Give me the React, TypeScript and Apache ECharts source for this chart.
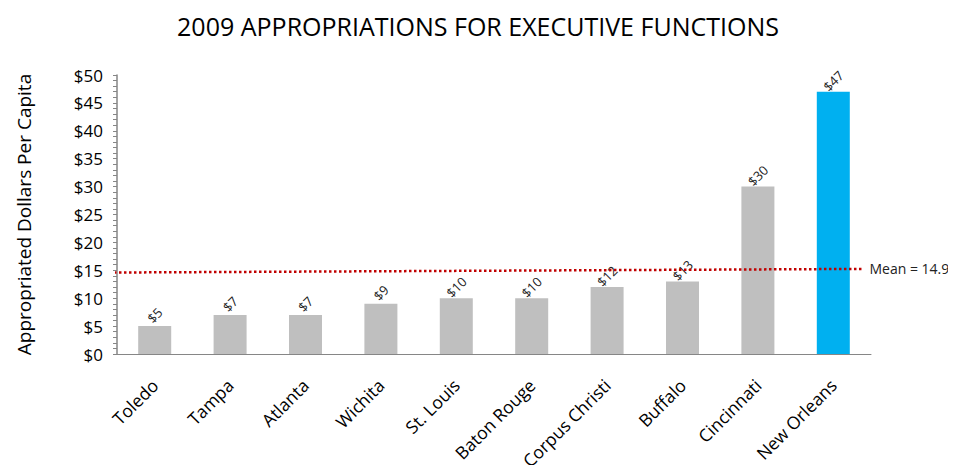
import React, { useEffect, useRef } from "react";
import * as echarts from "echarts";

const cities = ["Toledo", "Tampa", "Atlanta", "Wichita", "St. Louis", "Baton Rouge", "Corpus Christi", "Buffalo", "Cincinnati", "New Orleans"];
const values = [5, 7, 7, 9, 10, 10, 12, 13, 30, 47];
const barColors = ["#bfbfbf", "#bfbfbf", "#bfbfbf", "#bfbfbf", "#bfbfbf", "#bfbfbf", "#bfbfbf", "#bfbfbf", "#bfbfbf", "#00b0f0"];
const meanLine = [[-0.004, 14.6], [0.99, 15.25]];
const meanLabel = "Mean = 14.9";
const FONT = "'Open Sans', sans-serif";

export default function App() {
  const ref = useRef<HTMLDivElement>(null);
  useEffect(() => {
    const chart = echarts.init(ref.current!, null, { renderer: "svg" });
    chart.setOption({
      animation: false,
      backgroundColor: "#ffffff",
      title: {
        text: "2009 APPROPRIATIONS FOR EXECUTIVE FUNCTIONS",
        left: "center",
        top: 0,
        padding: [4, 5],
        textStyle: { fontFamily: FONT, fontSize: 25, lineHeight: 28, fontWeight: "normal", color: "#000" },
      },
      grid: { left: 109, right: 77, top: 67, bottom: 119, outerBoundsMode: "none", containLabel: false },
      xAxis: [
        {
          type: "category",
          data: cities,
          axisLine: { lineStyle: { color: "#868686", width: 1 } },
          axisTick: { show: false },
          axisLabel: { rotate: 45, fontFamily: FONT, fontSize: 17.5, color: "#000", margin: 28, interval: 0 },
        },
        { type: "value", min: 0, max: 1, show: false },
      ],
      yAxis: {
        type: "value",
        min: 0,
        max: 50,
        interval: 5,
        name: "Appropriated Dollars Per Capita",
        nameLocation: "middle",
        nameGap: 84,
        nameTextStyle: { fontFamily: FONT, fontSize: 19, color: "#000" },
        splitLine: { show: false },
        axisLine: { show: true, lineStyle: { color: "#868686", width: 1.5 } },
        axisTick: { show: true, length: 4, lineStyle: { color: "#868686" } },
        minorTick: { show: true, splitNumber: 5, length: 4, lineStyle: { color: "#868686" } },
        axisLabel: { formatter: "${value}", fontFamily: FONT, fontSize: 17, color: "#000", margin: 14 },
      },
      series: [
        {
          type: "bar",
          data: values.map((v, i) => ({ value: v, itemStyle: { color: barColors[i] } })),
          barWidth: 33,
          label: {
            show: true,
            position: "top",
            rotate: 45,
            align: "center",
            verticalAlign: "middle",
            distance: 11,
            formatter: "${c}",
            fontFamily: FONT,
            fontSize: 13,
            color: "#222",
          },
        },
        {
          type: "line",
          xAxisIndex: 1,
          data: meanLine,
          symbol: "none",
          lineStyle: { color: "#c00000", width: 2.5, type: [2.5, 2.5] },
          endLabel: { show: true, formatter: meanLabel, fontFamily: FONT, fontSize: 14, color: "#222", distance: 6 },
          z: 5,
        },
      ],
    });
    return () => chart.dispose();
  }, []);
  return <div ref={ref} style={{ width: 940, height: 465, marginBottom: -8 }} />;
}
